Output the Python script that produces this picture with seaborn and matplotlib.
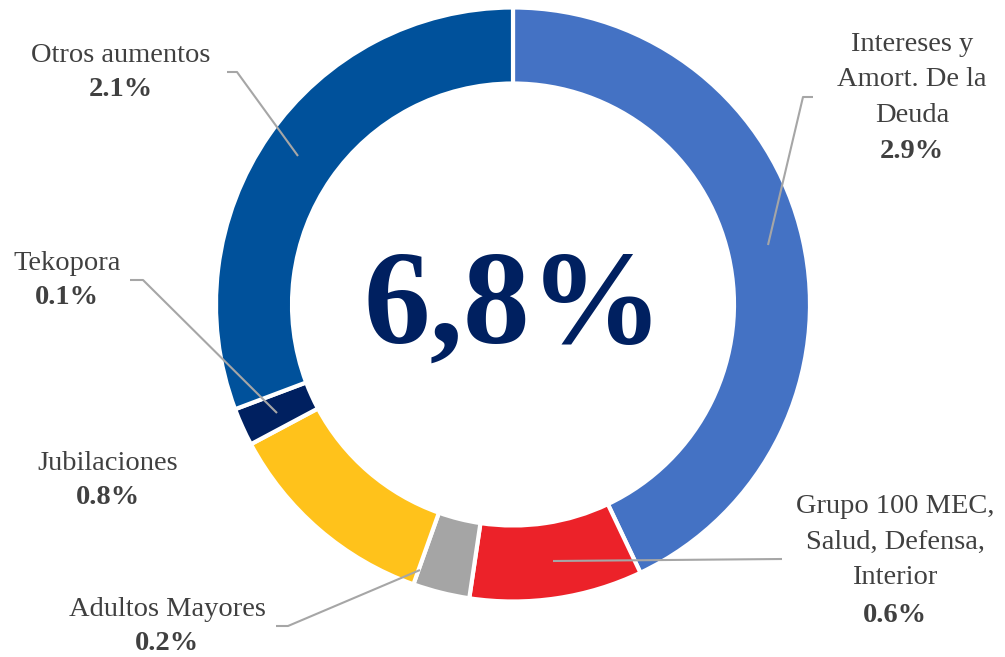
import matplotlib
matplotlib.use("Agg")
import matplotlib.pyplot as plt
import seaborn as sns

# ---- data ----
categories = ["Intereses y\nAmort. De la\nDeuda", "Grupo 100 MEC,\nSalud, Defensa,\nInterior",
              "Adultos Mayores", "Jubilaciones", "Tekopora", "Otros aumentos"]
values = [2.92, 0.64, 0.21, 0.80, 0.14, 2.09]
total_label = "6,8%"
colors = ["#4472C4", "#EC2229", "#A5A5A5", "#FFC21B", "#002060", "#00519B"]

# ---- layout (pixel coords, y from top) ----
W, H = 1005, 657
label_pos = [(912, 80, 152), (895, 542, 615), (167, 610, 643), (108, 463, 497), (67, 263, 298), (121, 55, 90)]
leaders = [
    [(813, 97), (803, 97), (768, 245)],
    [(782, 559), (553, 561)],
    [(276, 626), (288, 626), (420, 570)],
    None,
    [(130, 280), (143, 280), (277, 413)],
    [(227, 72), (237, 72), (298, 156)],
]

sns.set_theme(style="white")
plt.rcParams["font.family"] = ["Liberation Serif", "DejaVu Serif"]

fig = plt.figure(figsize=(W / 100, H / 100), dpi=100)
ax = fig.add_axes([0, 0, 1, 1])

cx, cy, R = 513, 304.5, 297
ax.pie(values, colors=colors, startangle=90, counterclock=False,
       center=(cx, H - cy), radius=R, frame=True,
       wedgeprops=dict(width=76, edgecolor="white", linewidth=3))
ax.set_xlim(0, W)
ax.set_ylim(0, H)
ax.set_aspect("equal")
ax.axis("off")

for cat, v, (lx, ny, vy), ld in zip(categories, values, label_pos, leaders):
    ax.text(lx, H - ny, cat, ha="center", va="center", fontsize=20.5,
            color="#404040", linespacing=1.53)
    ax.text(lx, H - vy, f"{v:.1f}%", ha="center", va="center", fontsize=20.5,
            color="#404040", fontweight="bold")
    if ld:
        ax.plot([p[0] for p in ld], [H - p[1] for p in ld], color="#A6A6A6", lw=1.5,
                solid_capstyle="butt")

ax.text(cx, H - 310, total_label, ha="center", va="center", fontsize=96,
        color="#002060", fontweight="bold")

fig.savefig("out.png", dpi=100)
